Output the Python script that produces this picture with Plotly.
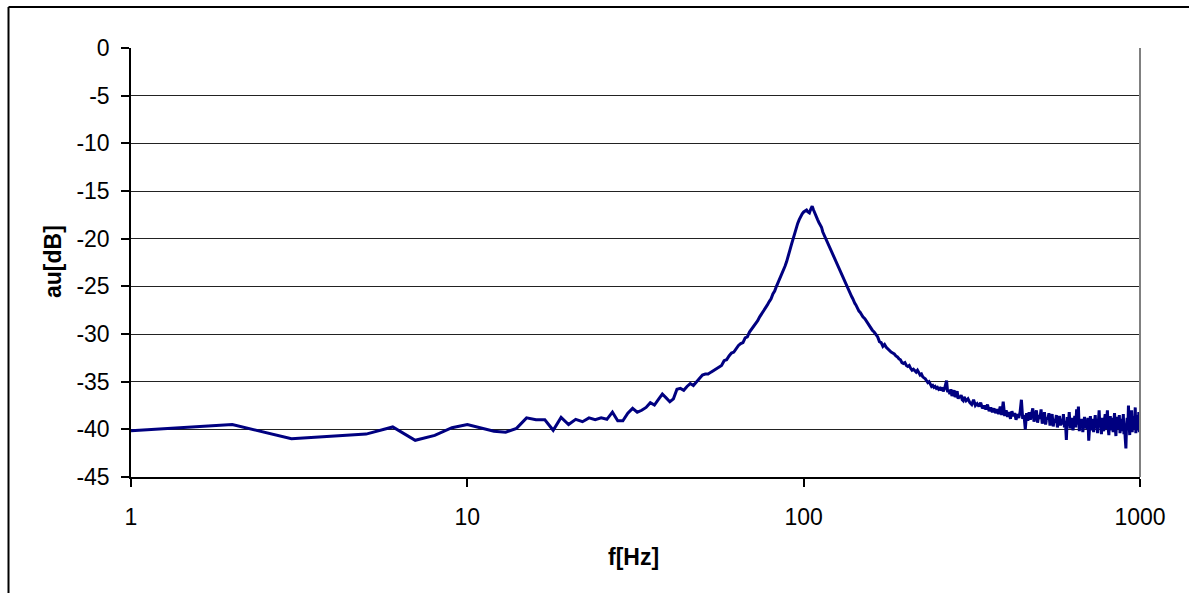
import plotly.graph_objects as go

# Low band: 1..150 Hz, 1 Hz steps
f_low = list(range(1, 151))
db_low = [
    -40.14, -39.5, -40.98, -40.7, -40.5, -39.75, -41.15, -40.63, -39.83, -39.5,
    -39.9, -40.2, -40.3, -39.9, -38.8, -39.0, -39.0, -40.1, -38.75, -39.5,
    -38.95, -39.2, -38.8, -39.0, -38.8, -38.95, -38.2, -39.1, -39.1, -38.3,
    -37.8, -38.2, -38.0, -37.7, -37.2, -37.45, -36.85, -36.3, -36.7, -37.1,
    -36.8, -35.8, -35.7, -35.9, -35.5, -35.2, -35.4, -35.0, -34.65, -34.3,
    -34.2, -34.2, -34.0, -33.8, -33.6, -33.4, -33.3, -32.8, -32.7, -32.3,
    -32.0, -31.9, -31.5, -31.2, -31.0, -30.9, -30.4, -30.3, -29.8, -29.5,
    -29.2, -28.9, -28.6, -28.2, -27.9, -27.6, -27.2, -26.95, -26.6, -26.3,
    -25.8, -25.5, -25.0, -24.6, -24.1, -23.8, -23.3, -22.9, -22.4, -21.9,
    -21.2, -20.6, -20.0, -19.3, -18.8, -18.4, -18.0, -17.6, -17.4, -17.2,
    -17.1, -17.0, -17.2, -17.3, -16.9, -16.6, -17.0, -17.4, -17.8, -18.0,
    -18.3, -18.6, -18.8, -19.3, -19.6, -19.9, -20.2, -20.5, -20.9, -21.1,
    -21.4, -21.7, -22.0, -22.3, -22.6, -22.8, -23.1, -23.4, -23.6, -23.9,
    -24.2, -24.4, -24.6, -24.9, -25.2, -25.5, -25.7, -25.9, -26.1, -26.3,
    -26.6, -26.8, -26.95, -27.2, -27.4, -27.6, -27.7, -27.9, -28.1, -28.2,
]

# Mid band: 152..300 Hz, 2 Hz steps
f_mid = list(range(152, 301, 2))
db_mid = [
    -28.4, -28.7, -29.1, -29.3, -29.6, -29.8, -30.1, -30.3, -30.8, -30.9,
    -31.3, -31.1, -31.4, -31.6, -31.7, -31.9, -32.0, -32.1, -32.3, -32.4,
    -32.6, -32.7, -33.0, -33.1, -33.0, -33.3, -33.4, -33.3, -33.6, -33.8,
    -33.7, -33.9, -34.0, -33.8, -34.1, -34.3, -34.2, -34.5, -34.6, -34.7,
    -34.9, -35.1, -35.0, -35.3, -35.5, -35.4, -35.6, -35.5, -35.7, -35.6,
    -35.8, -35.7, -35.9, -35.6, -36.0, -35.8, -35.2, -34.9, -36.1, -35.9,
    -36.3, -35.8, -36.5, -36.2, -35.9, -36.6, -36.4, -36.0, -36.8, -36.5,
    -36.7, -36.4, -36.9, -37.0, -36.6,
]

# High band: 304..1000 Hz, 4 Hz steps
f_high = list(range(304, 1001, 4))
db_high = [
    -37.0, -36.8, -37.2, -37.4, -36.9, -37.5, -37.3, -37.6, -37.2, -37.8,
    -37.5, -37.9, -37.4, -38.1, -37.7, -38.2, -37.8, -38.3, -37.9, -38.4,
    -37.6, -38.5, -37.1, -38.6, -38.0, -38.7, -38.2, -38.9, -38.1, -38.6,
    -38.3, -39.0, -38.4, -38.8, -38.2, -36.9, -38.9, -38.5, -40.0, -38.3,
    -39.1, -38.2, -39.0, -38.4, -37.8, -39.2, -38.6, -38.0, -39.3, -38.5,
    -38.9, -37.9, -39.4, -38.7, -38.2, -39.5, -38.8, -39.0, -38.3, -39.6,
    -38.9, -38.4, -39.7, -38.9, -39.3, -38.5, -39.8, -39.0, -38.6, -39.6,
    -38.9, -39.5, -38.4, -39.8, -39.1, -41.1, -38.7, -39.6, -38.2, -39.9,
    -39.2, -38.8, -40.1, -39.3, -38.6, -39.8, -37.9, -39.5, -37.6, -40.2,
    -39.0, -39.7, -38.9, -40.3, -39.2, -38.7, -39.9, -39.1, -40.0, -38.8,
    -41.2, -39.3, -38.6, -40.1, -39.4, -38.9, -40.3, -39.2, -38.5, -39.9,
    -39.3, -40.4, -38.7, -38.0, -39.8, -39.1, -40.5, -38.8, -39.6, -40.2,
    -39.0, -38.4, -40.0, -39.3, -38.0, -39.9, -40.6, -39.1, -38.6, -40.1,
    -39.4, -38.8, -40.3, -39.5, -38.3, -39.8, -40.7, -39.2, -38.7, -40.0,
    -39.4, -38.5, -40.4, -39.6, -38.9, -40.2, -39.3, -38.4, -40.5, -39.7,
    -41.0, -42.0, -39.5, -38.8, -40.1, -37.5, -39.4, -40.6, -38.9, -39.8,
    -38.0, -40.3, -39.5, -38.6, -40.0, -39.3, -37.7, -40.4, -39.2, -38.5,
    -40.1, -39.6, -38.2, -40.3, -39.5,
]

n = min(len(f_high), len(db_high))
freq = f_low + f_mid + f_high[:n]
au_db = db_low + db_mid + db_high[:n]

y_ticks = [0, -5, -10, -15, -20, -25, -30, -35, -40, -45]
y_ticktext = ["0", "-5", "-10", "-15", "-20", "-25", "-30", "-35", "-40", "-45"]
x_ticks = [1, 10, 100, 1000]
x_ticktext = ["1", "10", "100", "1000"]

W, H = 1189, 593
L, R, T, B = 131, 1140, 48, 477

fig = go.Figure()
fig.add_trace(go.Scatter(
    x=freq, y=au_db, mode="lines",
    line=dict(color="#000080", width=3),
    showlegend=False,
))

font = dict(family="Liberation Sans, Arial, sans-serif", size=23, color="black")

fig.update_layout(
    width=W, height=H,
    margin=dict(l=L, r=W - R, t=T, b=H - B, pad=0),
    paper_bgcolor="white", plot_bgcolor="white",
    font=font,
    xaxis=dict(
        type="log", range=[0, 3],
        tickvals=x_ticks, ticktext=x_ticktext,
        showgrid=False, zeroline=False,
        showline=True, linecolor="black", linewidth=1.5,
        ticks="outside", ticklen=8, tickcolor="black", tickwidth=1.5,
        ticklabelstandoff=11,
        tickfont=font,
    ),
    yaxis=dict(
        range=[-45, 0],
        tickvals=y_ticks, ticktext=y_ticktext,
        showgrid=True, gridcolor="#222222", gridwidth=1.2,
        zeroline=False,
        showline=True, linecolor="black", linewidth=1.5,
        ticks="outside", ticklen=8, tickcolor="black", tickwidth=1.5,
        ticklabelstandoff=7,
        tickfont=font,
    ),
)

def px_x(p):
    return (p - L) / (R - L)

def px_y(p):
    return (B - p) / (B - T)

# right border of plot area
fig.add_shape(type="line", xref="paper", yref="paper",
              x0=1, x1=1, y0=0, y1=1,
              line=dict(color="#808080", width=2))
# outer chart border (left and top, rest is cut off)
fig.add_shape(type="line", xref="paper", yref="paper",
              x0=px_x(8.5), x1=px_x(1200), y0=px_y(7), y1=px_y(7),
              line=dict(color="black", width=2))
fig.add_shape(type="line", xref="paper", yref="paper",
              x0=px_x(8.5), x1=px_x(8.5), y0=px_y(7), y1=px_y(620),
              line=dict(color="black", width=2))

fig.add_annotation(text="<b>f[Hz]</b>", xref="paper", yref="paper",
                   x=px_x(633), y=px_y(557), xanchor="center", yanchor="middle",
                   showarrow=False, font=font)
fig.add_annotation(text="<b>au[dB]</b>", xref="paper", yref="paper",
                   x=px_x(53), y=px_y(262), xanchor="center", yanchor="middle",
                   textangle=-90, showarrow=False, font=font)

fig.write_html("out.html", config={"displayModeBar": False})

# remove the browser's default page margin so the figure sits at (0, 0)
with open("out.html", "r", encoding="utf-8") as fh:
    html = fh.read()
html = html.replace("<body>", '<body style="margin:0;padding:0;overflow:hidden">', 1)
with open("out.html", "w", encoding="utf-8") as fh:
    fh.write(html)
